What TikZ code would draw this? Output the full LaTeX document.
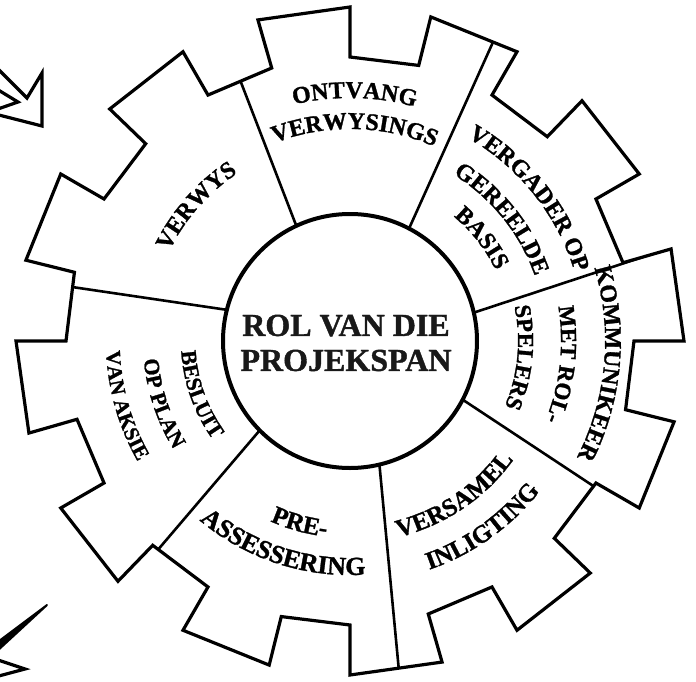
\documentclass[tikz,border=0pt]{standalone}
\usepackage{fontspec}
\setmainfont{Liberation Serif}[BoldFeatures={FakeBold=1.2}]
\usetikzlibrary{decorations.text}
\newcommand\cwlabel[4]{%
  \path[decorate, decoration={text along path, text align=center,
    text={|\fontsize{#1}{#1}\selectfont\bfseries|#4}}]
    ({#2+70}:#3) arc[start angle={#2+70}, end angle={#2-70}, radius=#3];}
\newcommand\ccwlabel[4]{%
  \path[decorate, decoration={text along path, text align=center,
    text={|\fontsize{#1}{#1}\selectfont\bfseries|#4}}]
    ({#2-70}:#3) arc[start angle={#2-70}, end angle={#2+70}, radius=#3];}
\begin{document}
\begin{tikzpicture}[x=1pt,y=1pt,
  gearline/.style={line width=3.2pt, line join=miter},
  divider/.style={line width=2.6pt},
  hubline/.style={line width=4pt},
  arrowline/.style={line width=3.2pt, line join=miter}]
\useasboundingbox[fill=white] (-350,-340) rectangle (346,341);
\def\Rt{334}\def\Rv{284}
% dividers, clipped to the gear
\begin{scope}
\clip (0:\Rv) \foreach \k in {0,...,10}{ -- ({30*\k}:\Rt) -- ({30*\k+16}:\Rt) -- ({30*\k+16}:\Rv) -- ({30*\k+30}:\Rv) }
  -- (330:\Rt) -- (346:\Rt) -- (346:\Rv) -- cycle;
\foreach \ai/\ao in {115/112.5, 62.3/64.5, 12.9/16.3, -27.5/-31.3, -76.6/-81.7, -135.3/-132.2, 165.8/169.5}
  \draw[divider] (\ai:127) -- (\ao:350);
\end{scope}
% gear outline
\draw[gearline] (0:\Rv) \foreach \k in {0,...,10}{ -- ({30*\k}:\Rt) -- ({30*\k+16}:\Rt) -- ({30*\k+16}:\Rv) -- ({30*\k+30}:\Rv) }
  -- (330:\Rt) -- (346:\Rt) -- (346:\Rv) -- cycle;
% hub
\node[circle, draw, hubline, fill=white, minimum size=254pt, inner sep=0pt] (hub) at (0,0) {};
\node[font=\fontsize{32}{35}\selectfont\bfseries, align=center, text=black!90] (title) at (-4,-2) {ROL VAN DIE\\PROJEKSPAN};
% sector labels
\cwlabel{24}{88.9}{243}{ONTVANG}
\cwlabel{24}{88.7}{212}{VERWYSINGS}
\cwlabel{24}{138.7}{202}{VERWYS}
\cwlabel{24}{38.5}{235}{VERGADER OP}
\cwlabel{24}{38.8}{196}{GEREELDE}
\cwlabel{24}{38}{162}{BASIS}
\cwlabel{24}{-5.2}{255}{KOMMUNIKEER}
\cwlabel{23}{-6.3}{211}{MET ROL-}
\cwlabel{23}{-5.5}{168}{SPELERS}
\ccwlabel{25}{-56}{202}{VERSAMEL}
\ccwlabel{25}{-54.6}{242}{INLIGTING}
\ccwlabel{25}{-105.4}{197}{PRE-}
\ccwlabel{26}{-108.1}{234}{ASSESSERING}
\ccwlabel{22}{199.6}{169}{BESLUIT}
\ccwlabel{22}{198.4}{207}{OP PLAN}
\ccwlabel{21}{196}{244}{VAN AKSIE}
% corner arrows
\coordinate (tla) at (-355,275);
\coordinate (tlb) at (-323,243);
\coordinate (tlc) at (-308,268);
\coordinate (tld) at (-308,215);
\coordinate (tle) at (-355,227);
\draw[arrowline] (tla) -- (tlb) -- (tlc) -- (tld) -- (tle);
\coordinate (tlf) at (-355,253);
\coordinate (tlg) at (-332,239);
\coordinate (tlh) at (-355,231);
\draw[arrowline] (tlf) -- (tlg) -- (tlh);
\coordinate (bla) at (-303,-264);
\coordinate (blb) at (-355,-303);
\coordinate (blc) at (-355,-312);
\draw[line width=2pt, line join=round, fill=black] (bla) -- (blb) -- (blc) -- cycle;
\coordinate (bld) at (-355,-318);
\coordinate (ble) at (-325,-328);
\coordinate (blf) at (-355,-336);
\draw[arrowline] (bld) -- (ble) -- (blf);
\end{tikzpicture}
\end{document}
